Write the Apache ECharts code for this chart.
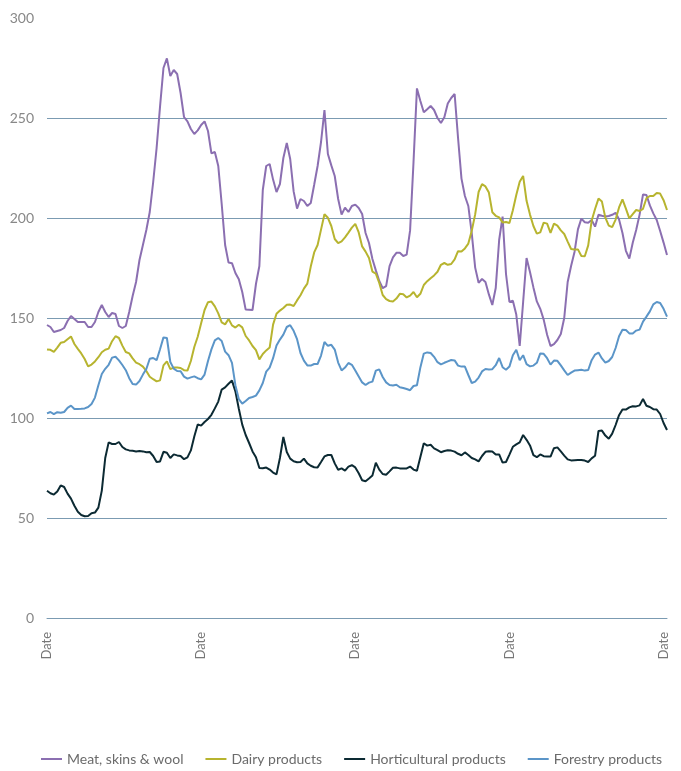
<!DOCTYPE html>
<html>
<head>
<meta charset="utf-8">
<script src="https://cdn.jsdelivr.net/npm/echarts@6/dist/echarts.min.js"></script>
<style>html,body{margin:0;padding:0;background:#fff}#chart{width:681px;height:771px}</style>
</head>
<body>
<div id="chart"></div>
<script>
const categories = Array.from({length: 182}, () => 'Date');
const yTicks = [0, 50, 100, 150, 200, 250, 300];

const meat = [146.5,145.5,143,143.5,144,145,148.5,151,149.5,148,148,148,145.5,145.5,148,153,156.5,153,150.5,152.5,
152,146,145,146,153,161,168,179,186.5,194,203,218,235,255.7,275,279.8,271,274,272,262.5,
250.5,248.3,244.5,242,243.8,246.5,248.3,243.5,232.3,233,226,207,186.5,177.7,177.4,172.5,169.4,163,154.2,154.1,
154,167,176,214,226,227,219.2,213,217,230,237.5,229.5,213.3,204.7,209.5,208.5,206,207.5,216.6,226,
238,254,232,226.3,221,209.5,201.7,205.2,203,206,206.7,205,202,192.5,187.5,179.5,173.8,168.5,164.9,165.9,
175.9,180.3,182.6,182.6,181,181.7,193.8,228,264.8,258.5,252.9,254.4,256,254,250,247.5,250.4,257.2,260,262,
240,219.7,211,206,192.3,175.2,167.6,169.5,168,161.8,156.5,165,189,200.7,172,158,158.6,151.7,136,158,
180,173,165.3,158.3,154.6,149.2,141.6,136,136.9,139,142,150,168,176,183,194.3,199.7,197.9,197.6,199,
195.7,201.6,201.1,200.7,201,201.6,202.6,199.3,192.5,183.6,179.7,187.6,194,201.7,211.8,211.5,206.3,202.3,199,193.5,
187.7,181.5];

const dairy = [134.3,134.1,133.1,135.2,137.6,138,139.4,140.8,137,134.6,132.3,129.5,125.8,126.7,128.3,130.4,132.9,134.1,134.7,138.4,
140.9,140,136.2,133,132.3,129.8,127.7,126.9,125.7,123.5,120.6,119.4,118.3,118.8,126.3,128.3,124.4,125.2,125.2,125,
123.9,123.7,128.5,135.5,140.6,147.4,154,157.9,158.2,155.8,152.3,147.8,146.8,149.5,146.3,145.2,146.6,145.3,141,138.8,
136,133.9,129.3,132,133.8,135.2,146.7,152.1,153.7,155,156.6,156.7,156,158.8,161.4,164.7,167.2,175.7,182.8,186.5,
194.2,201.9,200.1,196,189.5,187.4,188.3,190.3,192.7,195.2,197.1,192.8,185.8,183.2,180,173.2,172.2,167.5,161.5,159.4,
158.5,158.3,159.7,162.1,161.9,160.3,161.2,163,160.4,162.1,166.5,168.4,169.9,171.3,173.1,176.6,177.5,176.6,177,179.3,
183.4,183.2,184.8,187.2,193.6,201.8,213,216.9,215.8,212.7,202.9,201.1,200.3,197.8,198,197.5,203.9,211.5,218.1,221,
208.6,201.7,196,192.2,192.8,197.7,197.2,192.6,197.2,196.2,193.8,192,188.2,184.5,184.3,184.3,181,180.9,186.3,198.6,
204.5,209.7,208.2,200.2,196.2,195.4,199.2,205.3,209.3,204.7,199.8,201.9,204,203.5,204.6,209.9,211,211,212.5,212.2,
208.9,204];

const horticultural = [63.6,62.4,61.7,63.3,66.3,65.5,62.2,59.7,56.1,53.1,51.5,50.9,51,52.4,52.7,55.2,63.7,80,87.8,87,
87,88,85.5,84.3,83.8,83.6,83.3,83.5,83.3,82.9,83,81,78,78.3,83.1,82.6,80,81.8,81.3,81,
79.4,80.3,83.8,90.7,96.8,96.2,98,99.5,101.6,104.8,108.2,114.2,115.3,117.1,118.7,113.3,104.6,96.7,91.5,87.5,
83.3,80.4,75,74.9,75.2,74.2,72.7,71.8,80,90.5,83,79.7,78.4,77.9,78,79.7,77.3,76.1,75.4,75.3,
78,80.8,81.5,81.5,77.3,74.1,74.8,73.7,75.7,76.4,75.3,72.4,68.9,68.4,69.8,71.3,77.6,74.2,72,71.6,
73.3,75.1,75.2,74.8,74.8,74.8,75.7,74.2,73.6,80.5,87.4,86.2,86.6,84.8,83.9,82.9,83.5,83.9,83.7,83.2,
82.1,81.4,82.8,81.5,80,79.3,78.3,81,83.1,83.4,83.3,81.8,81.8,77.7,78,81.7,85.6,86.8,87.8,91.5,
89.1,86.3,81.4,80.4,81.8,80.9,80.7,80.7,84.9,85.3,83.3,81.2,79.3,78.8,78.9,79,79,78.7,78,79.8,
81.1,93.5,93.7,91.2,89.6,92.2,96.5,101.4,104.3,104.2,105.3,105.9,105.8,106.3,109.5,106.1,105.5,104.4,104.2,102,
97.5,94];

const forestry = [102.3,103,101.9,102.9,102.6,103,105.1,106.2,104.5,104.5,104.6,104.8,105.5,107,110.2,116.4,122,124.6,126.6,130.2,
130.6,128.8,126.5,123.9,119.9,117,116.7,118.5,121.7,124.5,129.6,130,128.9,134.4,140.3,140,128,124.7,123.5,123.4,
120.7,119.7,120.3,120.8,119.9,119.3,121.7,128.5,134.3,138.8,140,138.5,133.2,131.4,127.6,116.4,109.4,107.2,108.5,110,
110.5,111.2,113.8,117.5,123.2,125.2,129.9,136.2,139.2,141.7,145.5,146.4,143.6,139.4,132.5,128.7,126.3,126.2,127,127,
131.2,138,136.1,136.6,134.2,127.7,123.8,125.2,127.5,126.6,123.8,120.8,117.8,116.5,117.7,118.2,123.7,124.3,120.5,117.8,
116.5,116.3,116.6,115.4,115,114.5,113.9,116,116.4,125.3,132.2,132.8,132.5,130.6,127.9,126.8,127.6,128.3,129,128.8,
126.2,125.7,125.7,121.5,117.5,118.2,120.2,123.3,124.5,124.3,124.4,126.4,130,125.4,124.1,125.7,131.4,134.1,128.9,131.4,
126.9,125.8,126.2,127.6,132.3,132.1,129.9,126.7,128.7,128.6,126.3,123.8,121.5,122.7,123.7,123.9,124.1,123.7,124,128.9,
131.7,132.7,129.8,127.7,128.5,130.5,135,140.9,144.1,144,142.3,142.3,143.7,144.2,148.2,150.7,153.3,156.8,158,157.5,
154.6,150.7];

const seriesNames = ['Meat, skins & wool', 'Dairy products', 'Horticultural products', 'Forestry products'];
const seriesColors = ['#8b6fb1', '#b7b42f', '#0c2a33', '#5b95c8'];
const seriesData = [meat, dairy, horticultural, forestry];

const chart = echarts.init(document.getElementById('chart'));
const gridColor = '#7b9bb2';
chart.setOption({
  animation: false,
  backgroundColor: '#ffffff',
  textStyle: { fontFamily: 'Lato' },
  grid: { left: 47, right: 14, top: 18, bottom: 153, containLabel: false },
  legend: {
    bottom: 0,
    left: 36,
    itemWidth: 21,
    itemHeight: 2,
    itemGap: 22,
    icon: 'rect',
    textStyle: { color: '#6b6b6b', fontSize: 14, fontFamily: 'Lato' },
    data: seriesNames
  },
  xAxis: {
    type: 'category',
    data: categories,
    boundaryGap: false,
    axisLine: { show: true, lineStyle: { color: gridColor, width: 1 } },
    axisTick: { show: false },
    axisLabel: { interval: 44, rotate: 90, color: '#777', fontSize: 13, margin: 14, fontFamily: 'Lato' },
    splitLine: { show: false }
  },
  yAxis: {
    type: 'value',
    min: yTicks[0],
    max: yTicks[yTicks.length - 1],
    interval: 50,
    axisLine: { show: false },
    axisTick: { show: false },
    axisLabel: { color: '#888', fontSize: 14, margin: 13, fontFamily: 'Lato' },
    splitLine: { show: true, showMaxLine: false, lineStyle: { color: gridColor, width: 1 } }
  },
  series: seriesData.map((d, i) => ({
    name: seriesNames[i],
    type: 'line',
    data: d,
    showSymbol: false,
    symbol: 'none',
    lineStyle: { color: seriesColors[i], width: 2 },
    itemStyle: { color: seriesColors[i] },
    z: i === 0 ? 2 : 3
  }))
});
</script>
</body>
</html>
